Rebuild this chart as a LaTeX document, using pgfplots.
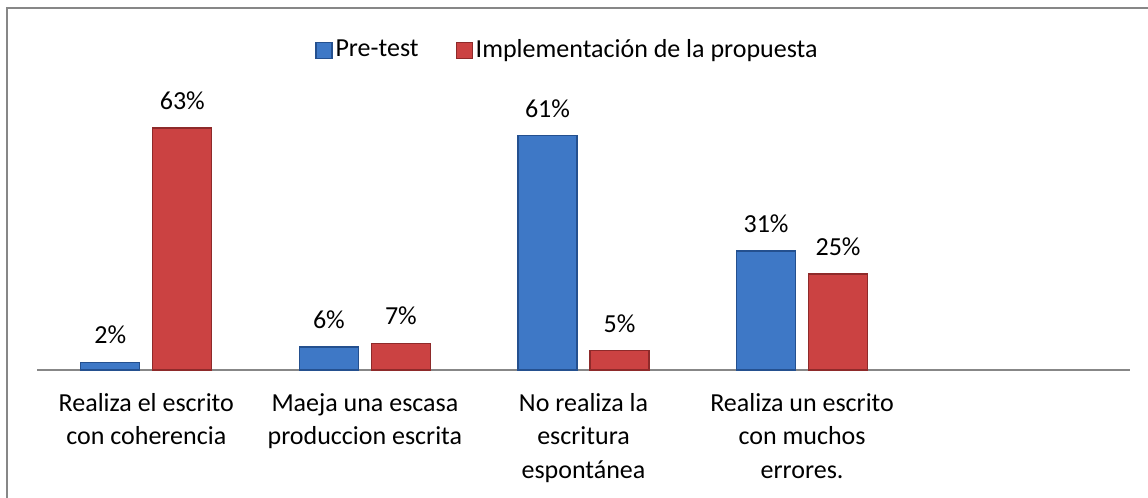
\documentclass[border=0pt]{standalone}
\usepackage{pgfplots}
\pgfplotsset{compat=1.18}
\usepackage{fontspec}
\setmainfont{Carlito}
\definecolor{bluebar}{HTML}{3E78C6}
\definecolor{bluedark}{HTML}{24508F}
\definecolor{redbar}{HTML}{CB4242}
\definecolor{reddark}{HTML}{8E2A2A}
\definecolor{framegray}{HTML}{878787}
\begin{document}
\begin{tikzpicture}
\useasboundingbox (0,0) rectangle (574pt,249pt);
\draw[framegray, line width=1pt] (3.5pt,0) -- (3.5pt,245pt) -- (574pt,245pt);
\begin{axis}[
  at={(18.5pt,64pt)}, anchor=south west,
  scale only axis, width=546.5pt, height=134.4pt,
  ymin=0, ymax=70, xmin=-0.5, xmax=4.5,
  axis x line*=bottom, axis y line=none,
  x axis line style={draw=framegray, line width=0.75pt},
  ybar=6.5pt, bar width=29.5pt,
  xtick={0,1,2,3},
  xticklabels={{Realiza el escrito\\con coherencia},{Maeja una escasa\\produccion escrita},{No realiza la\\escritura\\espontánea},{Realiza un escrito\\con muchos\\errores.}},
  major tick length=0pt,
  xticklabel style={align=center, anchor=north, inner sep=0pt, yshift=-11.5pt, font=\fontsize{13}{16.75}\selectfont},
  nodes near coords={\pgfmathprintnumber[assume math mode=true]{\pgfplotspointmeta}\%},
  every node near coord/.append style={anchor=base, inner sep=0pt, yshift=9.3pt, font=\fontsize{13}{15}\selectfont, text=black},
  clip=false,
  legend style={at={(0.4858,1.19)}, anchor=center, draw=none, fill=none, legend columns=-1, font=\fontsize{13}{15}\selectfont, nodes={inner sep=1.5pt}, /tikz/every even column/.append style={column sep=17pt}},
]
\addplot[draw=bluedark, line width=0.6pt, fill=bluebar,
  legend image code/.code={\draw[draw=bluedark, fill=bluebar] (0pt,-4pt) rectangle (8pt,4pt);}]
  coordinates {(0,2) (1,6) (2,61) (3,31)};
\addplot[draw=reddark, line width=0.6pt, fill=redbar,
  legend image code/.code={\draw[draw=reddark, fill=redbar] (0pt,-4pt) rectangle (8pt,4pt);}]
  coordinates {(0,63) (1,7) (2,5) (3,25)};
\legend{Pre-test, Implementación de la propuesta}
\end{axis}
\end{tikzpicture}
\end{document}
